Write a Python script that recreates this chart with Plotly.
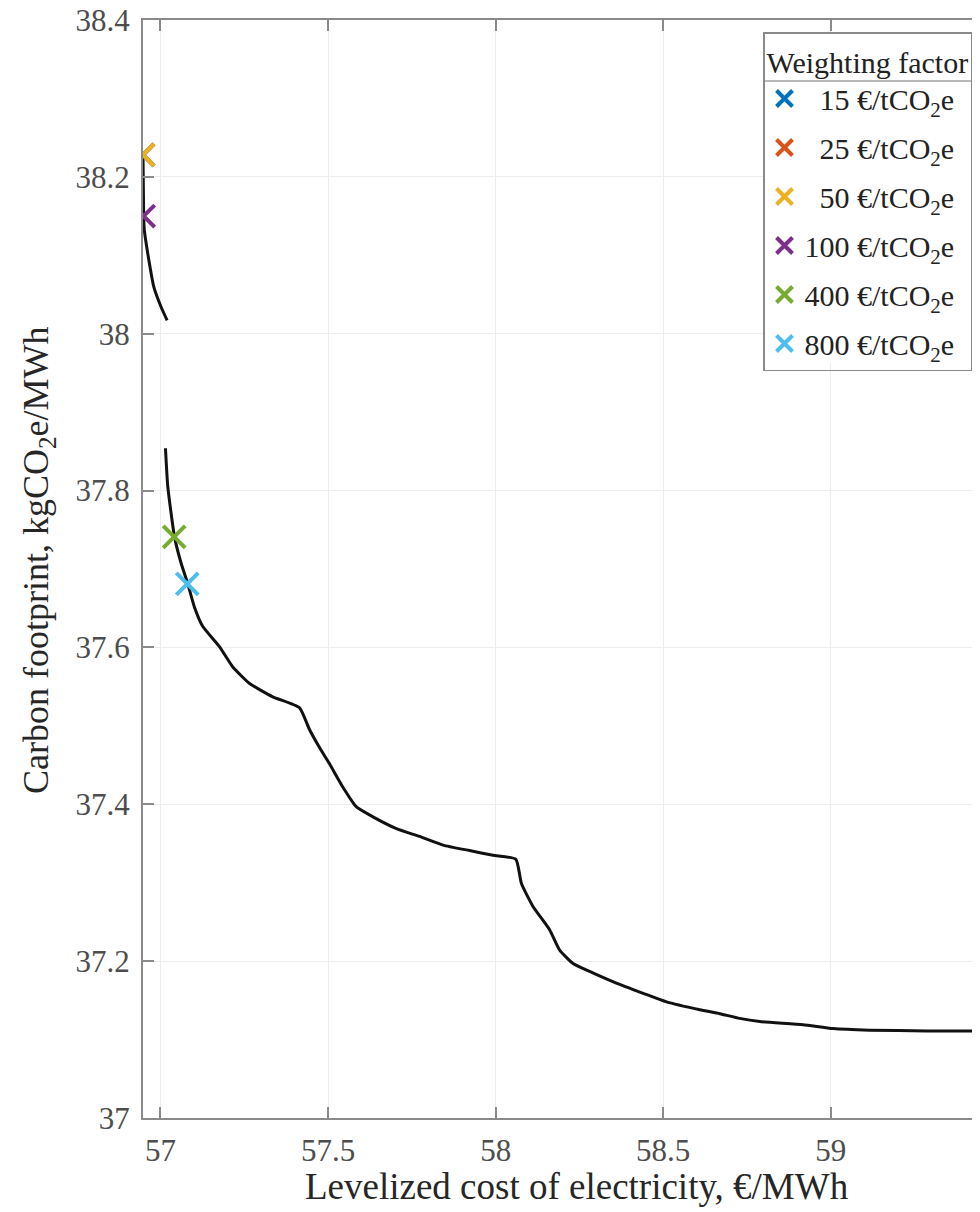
import plotly.graph_objects as go

# Pareto front, part A (upper branch)
front_a_lcoe = [56.948, 56.950, 56.952, 56.967, 56.980, 57.002, 57.020]
front_a_cf = [38.228, 38.149, 38.132, 38.090, 38.060, 38.034, 38.017]

# Pareto front, part B (lower branch)
front_b_lcoe = [57.015, 57.022, 57.042, 57.062, 57.081, 57.101, 57.126, 57.176, 57.216,
                57.266, 57.335, 57.415, 57.445, 57.475, 57.504, 57.544, 57.584, 57.634,
                57.704, 57.773, 57.843, 57.922, 57.992, 58.060, 58.077, 58.111, 58.161,
                58.191, 58.231, 58.290, 58.360, 58.440, 58.510, 58.609, 58.669, 58.728,
                58.788, 58.917, 59.007, 59.116, 59.286, 59.445, 59.55]
front_b_cf = [37.854, 37.805, 37.741, 37.707, 37.682, 37.652, 37.627, 37.601, 37.575,
              37.554, 37.537, 37.523, 37.495, 37.472, 37.452, 37.422, 37.397, 37.384,
              37.369, 37.359, 37.348, 37.341, 37.335, 37.330, 37.299, 37.270, 37.240,
              37.214, 37.197, 37.185, 37.172, 37.159, 37.148, 37.138, 37.133, 37.127,
              37.123, 37.119, 37.114, 37.112, 37.111, 37.111, 37.110]

# Selected solutions per weighting factor
weight_labels = ["15", "25", "50", "100", "400", "800"]
weight_lcoe = [56.948, 56.948, 56.948, 56.950, 57.041, 57.080]
weight_cf = [38.228, 38.228, 38.228, 38.150, 37.741, 37.681]
weight_colors = ["#0072BD", "#D95319", "#EDB120", "#7E2F8E", "#77AC30", "#4DBEEE"]

x_ticks = [57, 57.5, 58, 58.5, 59, 59.5]
y_ticks = [37, 37.2, 37.4, 37.6, 37.8, 38, 38.2, 38.4]

FONT = "Liberation Serif"

fig = go.Figure()
for xs, ys in [(front_a_lcoe, front_a_cf), (front_b_lcoe, front_b_cf)]:
    fig.add_trace(go.Scatter(x=xs, y=ys, mode="lines",
                             line=dict(color="#111", width=3, shape="spline", smoothing=0.5),
                             showlegend=False, hoverinfo="skip"))

for lab, xv, yv, col in zip(weight_labels, weight_lcoe, weight_cf, weight_colors):
    pad = "\u2007" * (3 - len(lab))
    fig.add_trace(go.Scatter(
        x=[xv], y=[yv], mode="markers",
        name=f"{pad}{lab} €/tCO<sub>2</sub>e",
        legendgroup=lab,
        marker=dict(symbol="x-thin", size=22, color=col,
                    line=dict(color=col, width=4)),
    ))

# page body has an 8 px margin; work in page pixels
OFF = 8
W, H = 980 - OFF, 1212 - OFF
ml, mr, mt = 143 - OFF, 0, 20 - OFF
mb = H - (1118 - OFF)
pw = W - ml - mr
ph = H - mt - mb

def px_x(p):
    return (p - OFF - ml) / pw

def px_y(p):
    return 1 - (p - OFF - mt) / ph

leg_left, leg_right, leg_top, leg_bottom = 763, 972, 32, 362
sep_y = 81

fig.update_layout(
    width=W, height=H,
    margin=dict(l=ml, r=mr, t=mt, b=mb, autoexpand=False),
    paper_bgcolor="white", plot_bgcolor="white",
    font=dict(family=FONT, size=31, color="#4d4d4d"),
    xaxis=dict(range=[56.948, 59.445], tickvals=x_ticks, ticktext=[f"{v:g}" for v in x_ticks],
               showgrid=True, gridcolor="#ededed", gridwidth=1,
               showline=True, linecolor="#8a8a8a", linewidth=2, mirror="ticks",
               ticks="inside", ticklen=11, tickcolor="#8a8a8a", tickwidth=1.5,
               ticklabelstandoff=4, zeroline=False, ticklabeloverflow="allow",
               tickfont=dict(family=FONT, size=31, color="#4d4d4d")),
    yaxis=dict(range=[37, 38.40001], tickvals=y_ticks, ticktext=[f"{v:g}" for v in y_ticks],
               showgrid=True, gridcolor="#ededed", gridwidth=1,
               showline=True, linecolor="#8a8a8a", linewidth=2, mirror=False,
               ticks="inside", ticklen=11, tickcolor="#8a8a8a", tickwidth=1.5,
               ticklabelstandoff=5, zeroline=False, ticklabeloverflow="allow",
               tickfont=dict(family=FONT, size=31, color="#4d4d4d")),
    legend=dict(
        title=dict(text="Weighting factor", font=dict(family=FONT, size=30, color="#222")),
        font=dict(family=FONT, size=30, color="#222"),
        x=px_x(leg_right), xanchor="right", y=px_y(leg_top), yanchor="top",
        bgcolor="rgba(0,0,0,0)", bordercolor="#8a8a8a", borderwidth=1.5,
        tracegroupgap=7, itemwidth=30,
    ),
    shapes=[
        dict(type="rect", xref="paper", yref="paper", layer="above",
             x0=px_x(leg_left), x1=px_x(leg_right), y0=px_y(leg_bottom), y1=px_y(leg_top),
             fillcolor="white", line=dict(width=0)),
        dict(type="line", xref="paper", yref="paper", layer="above",
             x0=px_x(leg_left), x1=px_x(leg_right), y0=px_y(sep_y), y1=px_y(sep_y),
             line=dict(color="#a0a0a0", width=1.5)),
    ],
    annotations=[
        dict(text="Levelized cost of electricity, €/MWh", xref="paper", yref="paper",
             x=px_x(577), y=px_y(1186), xanchor="center", yanchor="middle",
             showarrow=False, font=dict(family=FONT, size=37, color="#262626")),
        dict(text="Carbon footprint, kgCO<sub>2</sub>e/MWh", xref="paper", yref="paper",
             x=px_x(38), y=px_y(560), xanchor="center", yanchor="middle", textangle=-90,
             showarrow=False, font=dict(family=FONT, size=36, color="#262626")),
    ],
)

fig.write_html("out.html")
